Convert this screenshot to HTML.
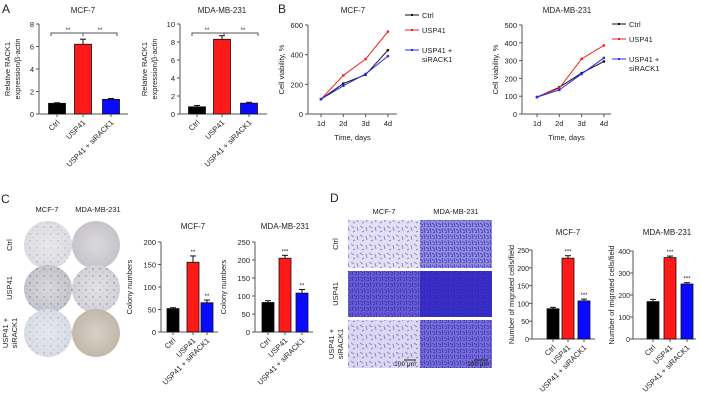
<!DOCTYPE html>
<html><head><meta charset="utf-8"><style>
html,body{margin:0;padding:0;background:#fff;}
svg{display:block;font-family:"Liberation Sans",sans-serif;}
</style></head><body>
<svg id="fig" width="701" height="400" viewBox="0 0 701 400" xmlns="http://www.w3.org/2000/svg">
<defs>
<pattern id="dots" width="7" height="7" patternUnits="userSpaceOnUse"><circle cx="2" cy="3" r="0.7" fill="#556"/><circle cx="5" cy="6" r="0.5" fill="#778"/></pattern>
<pattern id="cells" width="6" height="6" patternUnits="userSpaceOnUse"><path d="M0 1 L3 3 M4 0 L5 5 M1 5 L3 4" stroke="#2a20b0" stroke-width="1"/></pattern>
<pattern id="cellsL" width="9" height="9" patternUnits="userSpaceOnUse"><path d="M0 1 L3 3 M6 2 L7 6 M2 7 L4 6" stroke="#6a5cc8" stroke-width="1"/></pattern>
<radialGradient id="plateGlow"><stop offset="0" stop-color="#fff" stop-opacity="0.35"/><stop offset="1" stop-color="#fff" stop-opacity="0"/></radialGradient>
</defs>
</svg>
<script>
const svg=document.getElementById('fig');
const NS='http://www.w3.org/2000/svg';
// ---- data ----
const barCats=['Ctrl','USP41','USP41 + siRACK1'];
const aMcfVals=[0.95,6.2,1.3], aMcfErr=[0.05,0.45,0.08];
const aMdaVals=[0.8,8.3,1.2], aMdaErr=[0.15,0.4,0.1];
const aMcfTicks=[0,2,4,6,8], aMdaTicks=[0,2,4,6,8,10];
const days=['1d','2d','3d','4d'];
const bMcfCtrl=[100,205,265,430], bMcfUsp=[100,260,370,555], bMcfSi=[100,190,270,390];
const bMdaCtrl=[95,150,230,295], bMdaUsp=[95,145,310,385], bMdaSi=[95,135,225,315];
const bMcfTicks=[0,200,400,600], bMdaTicks=[0,100,200,300,400,500];
const cMcfVals=[52,155,65], cMcfErr=[2,14,6], cMcfStars=['','**','**'];
const cMdaVals=[82,205,108], cMdaErr=[5,8,10], cMdaStars=['','***','**'];
const cMcfTicks=[0,50,100,150,200], cMdaTicks=[0,50,100,150,200,250];
const dMcfVals=[85,227,107], dMcfErr=[4,7,5], dMcfStars=['','***','***'];
const dMdaVals=[170,370,250], dMdaErr=[10,7,6], dMdaStars=['','***','***'];
const dMcfTicks=[0,50,100,150,200,250], dMdaTicks=[0,100,200,300,400];
const barColors=['#000000','#ff1a1a','#0a0aff'];

function mk(tag,attrs,parent){const e=document.createElementNS(NS,tag);for(const k in attrs)e.setAttribute(k,attrs[k]);(parent||svg).appendChild(e);return e;}
function txt(s,x,y,size,anchor,rot,parent){const t=mk('text',{x:x,y:y,'font-size':size,'text-anchor':anchor||'middle',fill:'#222'},parent);if(rot)t.setAttribute('transform','rotate('+rot+' '+x+' '+y+')');t.textContent=s;return t;}

function barChart(name,o){
  const g=mk('g',{});
  
  
  const ys=v=>o.y0-(v/o.max)*(o.y0-o.y1);
  const tg=o.tickGap||5;
  const ax=mk('path',{d:'M'+o.ax+' '+o.y1+' V'+o.y0+' H'+o.axEnd,stroke:'#555',fill:'none','stroke-width':1},g);
  
  
  o.ticks.forEach(t=>{const y=ys(t);mk('line',{x1:o.ax-3,x2:o.ax,y1:y,y2:y,stroke:'#555'},g);
    const tl=txt(String(t),o.ax-tg,y+3,o.tfs||o.fs,'end',0,g);
    
    });
  o.vals.forEach((v,i)=>{const cx=o.xs[i];const y=ys(v);
    const ey=ys(v+o.err[i]);
    mk('line',{x1:cx,x2:cx,y1:y,y2:ey,stroke:'#111'},g);
    mk('line',{x1:cx-3,x2:cx+3,y1:ey,y2:ey,stroke:'#111'},g);
    const r=mk('rect',{x:cx-o.bw/2,y:y,width:o.bw,height:o.y0-y,fill:barColors[i],stroke:'#111','stroke-width':0.8},g);
    
    
    mk('line',{x1:cx,x2:cx,y1:o.y0,y2:o.y0+3,stroke:'#555'},g);
    if(o.stars&&o.stars[i]){const s=txt(o.stars[i],cx,ey-2,6,'middle',0,g);}
    const xl=txt(barCats[i],cx+3,o.y0+9,o.fs,'end',-45,g);
    
    
  });
  const tt=txt(o.title,o.tx,o.ty,o.fs+0.5,'middle',0,g);
  
  
  o.ylab.forEach((l,i)=>{const yl=txt(l,o.ylx+i*10,(o.y0+o.y1)/2,o.fs,'middle',-90,g);
    
    });
  return {g:g,ys:ys};
}

// Panel labels
[['A',2,13],['B',278,13],['C',1,203],['D',330,202]].forEach(p=>{const t=txt(p[0],p[1],p[2],12,'start');
  
  });

// Panel A
barChart('a-mcf7-chart',{vals:aMcfVals,err:aMcfErr,ticks:aMcfTicks,max:8,ax:39,axEnd:128,y0:114,y1:24,xs:[57,83,111],bw:17,fs:7.5,title:'MCF-7',tx:83,ty:13,ylab:['Relative RACK1','expression/β-actin'],ylx:10});
barChart('a-mdamb231-chart',{vals:aMdaVals,err:aMdaErr,ticks:aMdaTicks,max:10,ax:180,axEnd:267,y0:114,y1:24,xs:[197,222,249],bw:17,fs:7.5,title:'MDA-MB-231',tx:222,ty:13,ylab:['Relative RACK1','expression/β-actin'],ylx:147});
[[51,117,68,100,83],[192,258,207,243,224]].forEach(b=>{
  const br=mk('path',{d:'M'+b[0]+' 36 V33 H'+b[1]+' V36 M'+b[4]+' 33 V36',stroke:'#555',fill:'none'});
  
  
  txt('**',b[2],32,6);txt('**',b[3],32,6);
});

// Panel B line charts
function lineChart(name,o){
  const g=mk('g',{});
  
  
  const ys=v=>o.y0-(v/o.max)*(o.y0-o.y1);
  const xs=i=>o.x0+i*o.dx;
  const ax=mk('path',{d:'M'+o.ax+' '+o.y1+' V'+o.y0+' H'+o.axEnd,stroke:'#555',fill:'none'},g);
  
  
  o.ticks.forEach(t=>{const y=ys(t);mk('line',{x1:o.ax-3,x2:o.ax,y1:y,y2:y,stroke:'#555'},g);
    const tl=txt(String(t),o.ax-5,y+3,7.5,'end',0,g);
    
    });
  days.forEach((d,i)=>{mk('line',{x1:xs(i),x2:xs(i),y1:o.y0,y2:o.y0+3,stroke:'#555'},g);
    const tl=txt(d,xs(i),o.y0+12,7.5,'middle',0,g);
    
    });
  const series=[[o.ctrl,'#111','ctrl'],[o.usp,'#ee2222','usp41'],[o.si,'#2a2aee','usp41-sirack1']];
  series.forEach(s=>{
    const pl=mk('polyline',{points:s[0].map((v,i)=>xs(i)+','+ys(v)).join(' '),fill:'none',stroke:s[1],'stroke-width':1},g);
    
    
    s[0].forEach((v,i)=>{const c=mk('rect',{x:xs(i)-1.2,y:ys(v)-1.2,width:2.4,height:2.4,fill:s[1]},g);
      
      });
  });
  const tt=txt(o.title,o.tx,13,8,'middle',0,g);
  
  
  const xt=txt('Time, days',(o.ax+o.axEnd)/2,140,7.5,'middle',0,g);
  
  
  const yt=txt('Cell viability, %',o.ax-24,(o.y0+o.y1)/2,7.5,'middle',-90,g);
  
  
  const L=o.leg;
  [['Ctrl','#111',0],['USP41','#ee2222',15],['USP41 +','#2a2aee',35]].forEach(e=>{
    const le=mk('line',{x1:L[0],x2:L[0]+14,y1:L[1]+e[2],y2:L[1]+e[2],stroke:e[1]},g);
    
    
    mk('rect',{x:L[0]+6,y:L[1]+e[2]-1,width:2,height:2,fill:e[1]},g);
    txt(e[0],L[0]+17,L[1]+e[2]+3,7.5,'start',0,g);
  });
  txt('siRACK1',L[0]+17,L[1]+47,7.5,'start',0,g);
}
lineChart('b-mcf7-chart',{ctrl:bMcfCtrl,usp:bMcfUsp,si:bMcfSi,ticks:bMcfTicks,max:600,ax:308,axEnd:397,y0:114,y1:25,x0:321,dx:22.3,title:'MCF-7',tx:353,leg:[405,15]});
lineChart('b-mdamb231-chart',{ctrl:bMdaCtrl,usp:bMdaUsp,si:bMdaSi,ticks:bMdaTicks,max:500,ax:522,axEnd:611,y0:114,y1:25,x0:537,dx:22.3,title:'MDA-MB-231',tx:567,leg:[612,24]});

// Panel C plates
txt('MCF-7',47,212,7.5);txt('MDA-MB-231',98,212,7.5);
[[245,'Ctrl'],[288,'USP41']].forEach(r=>{const t=txt(r[1],12,r[0],7.5,'middle',-90);});
txt('USP41 +',8,333,7.5,'middle',-90);txt('siRACK1',17,333,7.5,'middle',-90);
const plateFills=[['#dcdce2','#c6c4ca'],['#c4c4cc','#d2d2d8'],['#d8dce6','#c2b8aa']];
[245,289,333].forEach((cy,ri)=>[48,96].forEach((cx,ci)=>{
  const p=mk('circle',{cx:cx,cy:cy,r:24,fill:plateFills[ri][ci]});
  
  
  if(ci==0||ri==1)mk('circle',{cx:cx,cy:cy,r:24,fill:'url(#dots)',opacity:ri==1?0.8:0.45});
  mk('circle',{cx:cx,cy:cy,r:24,fill:'url(#plateGlow)'});
}));
barChart('c-mcf7-chart',{vals:cMcfVals,err:cMcfErr,stars:cMcfStars,ticks:cMcfTicks,max:200,ax:161,axEnd:218,y0:332,y1:242,xs:[173,193,207],bw:12,fs:7.5,title:'MCF-7',tx:193,ty:229,ylab:['Colony numbers'],ylx:132});
barChart('c-mdamb231-chart',{vals:cMdaVals,err:cMdaErr,stars:cMdaStars,ticks:cMdaTicks,max:250,ax:255,axEnd:313,y0:332,y1:242,xs:[268,285,302],bw:12,fs:7.5,title:'MDA-MB-231',tx:285,ty:229,ylab:['Colony numbers'],ylx:226});

// Panel D images
txt('MCF-7',384,214,7.5);txt('MDA-MB-231',456,214,7.5);
[[244,'Ctrl'],[294,'USP41']].forEach(r=>{const t=txt(r[1],338,r[0],7.5,'middle',-90);});
txt('USP41 +',334,344,7.5,'middle',-90);txt('siRACK1',343,344,7.5,'middle',-90);
const imgFill=[['#e4e0f4','#9490e0'],['#6a60d4','#3a30c8'],['#dcd8f2','#7a70d8']];
[[220,48],[271,46],[320,48]].forEach((r,ri)=>[[348,72],[420,72]].forEach((c,ci)=>{
  const im=mk('rect',{x:c[0],y:r[0],width:c[1],height:r[1],fill:imgFill[ri][ci]});
  
  
  mk('rect',{x:c[0],y:r[0],width:c[1],height:r[1],fill:(ri==1||ci==1)?'url(#cells)':'url(#cellsL)',opacity:0.7});
}));
mk('line',{x1:404,x2:416,y1:360,y2:360,stroke:'#222','stroke-width':1});
mk('line',{x1:474,x2:488,y1:360,y2:360,stroke:'#222','stroke-width':1});
txt('100 μm',405,366,6.5);txt('100 μm',478,366,6.5);
barChart('d-mcf7-chart',{vals:dMcfVals,err:dMcfErr,stars:dMcfStars,ticks:dMcfTicks,max:250,ax:532,axEnd:595,y0:339,y1:250,xs:[553,568,584],bw:12,fs:7.5,tfs:7,tickGap:3,title:'MCF-7',tx:568,ty:235,ylab:['Number of migrated cells/field'],ylx:514});
barChart('d-mdamb231-chart',{vals:dMdaVals,err:dMdaErr,stars:dMdaStars,ticks:dMdaTicks,max:400,ax:633,axEnd:696,y0:339,y1:251,xs:[653,670,687],bw:12,fs:7.5,tfs:7,tickGap:3,title:'MDA-MB-231',tx:667,ty:235,ylab:['Number of migrated cells/field'],ylx:614});
</script>
</body></html>
